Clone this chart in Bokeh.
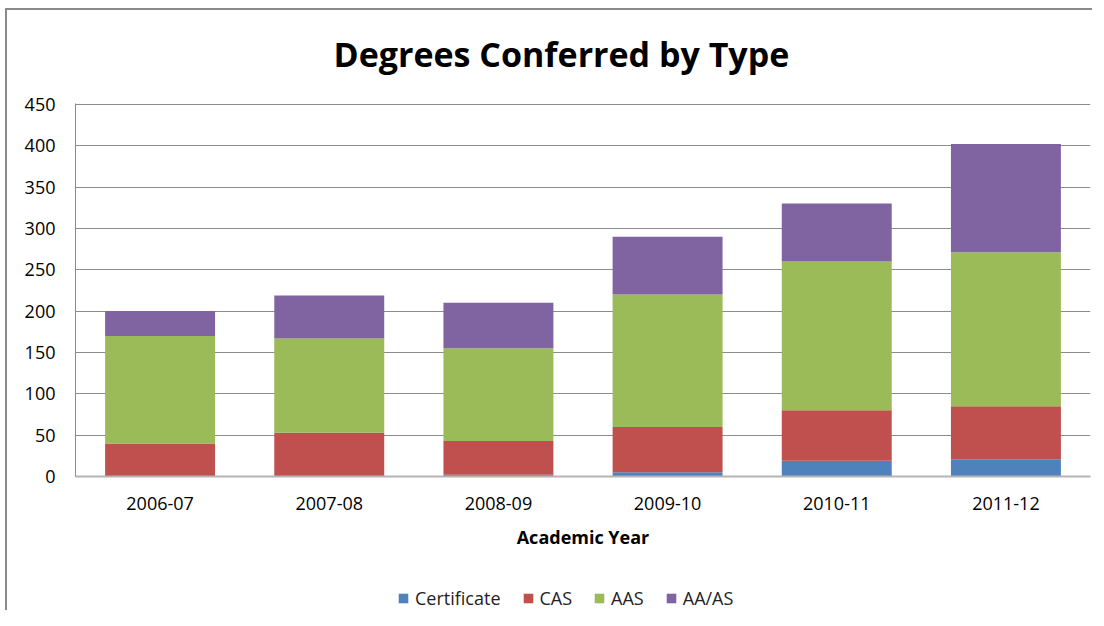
from bokeh.plotting import figure
from bokeh.layouts import column
from bokeh.models import Legend, LegendItem, FixedTicker, Title, Range1d, FactorRange
from bokeh.embed import file_html
from bokeh.resources import INLINE

years = ["2006-07", "2007-08", "2008-09", "2009-10", "2010-11", "2011-12"]
series = ["Certificate", "CAS", "AAS", "AA/AS"]
certificate = [0, 0, 2, 5, 19, 21]
cas = [40, 53, 41, 55, 61, 64]
aas = [130, 114, 112, 160, 180, 186]
aa_as = [30, 52, 55, 70, 70, 131]
y_ticks = [0, 50, 100, 150, 200, 250, 300, 350, 400, 450]
colors = ["#4F81BD", "#C0504D", "#9BBB59", "#8064A2"]

data = {"year": years, "Certificate": certificate, "CAS": cas, "AAS": aas, "AA/AS": aa_as}

FONT = "Open Sans"

p = figure(x_range=years, y_range=(0, 451), width=1096, height=560,
           output_backend="svg", toolbar_location=None,
           min_border_left=75, min_border_right=6, min_border_top=103, min_border_bottom=84)

p.vbar_stack(series, x="year", width=0.65, source=data, color=colors, line_width=0)

t = Title(text="Degrees Conferred by Type", align="left", text_font=FONT,
          text_font_size="34px", text_font_style="bold", text_color="#000000",
          standoff=53, offset=258)
p.add_layout(t, "above")

p.outline_line_color = None
p.background_fill_color = None
p.border_fill_color = None

p.xgrid.grid_line_color = None
p.ygrid.grid_line_color = "#8c8c8c"
p.ygrid.grid_line_width = 1

p.yaxis.ticker = FixedTicker(ticks=y_ticks)
p.yaxis.axis_line_color = "#8c8c8c"
p.yaxis.major_tick_line_color = None
p.yaxis.minor_tick_line_color = None
p.yaxis.major_label_text_font = FONT
p.yaxis.major_label_text_font_size = "18px"
p.yaxis.major_label_text_color = "#000000"
p.yaxis.major_label_standoff = 14

p.xaxis.axis_line_color = "#b4b4b4"
p.xaxis.axis_line_width = 2
p.xaxis.major_tick_line_color = None
p.xaxis.minor_tick_line_color = None
p.xaxis.major_label_text_font = FONT
p.xaxis.major_label_text_font_size = "18px"
p.xaxis.major_label_text_color = "#000000"
p.xaxis.major_label_standoff = 14
p.xaxis.axis_label = "Academic Year"
p.xaxis.axis_label_text_font = FONT
p.xaxis.axis_label_text_font_size = "18px"
p.xaxis.axis_label_text_font_style = "bold"
p.xaxis.axis_label_text_color = "#000000"
p.xaxis.axis_label_standoff = 12

# legend strip below the chart; its bars lie outside the visible y window,
# only their styles are used for the legend swatches
lg = figure(width=1096, height=50, x_range=FactorRange(*years), y_range=Range1d(1000, 1001),
            x_axis_location=None, y_axis_location=None,
            output_backend="svg", toolbar_location=None,
            min_border_left=0, min_border_right=0, min_border_top=0, min_border_bottom=0)
lg.grid.visible = False
lg.outline_line_color = None
lg.background_fill_color = None
lg.border_fill_color = None
swatches = lg.vbar_stack(series, x="year", width=0.65, source=data, color=colors, line_width=0)

legend = Legend(items=[LegendItem(label=s, renderers=[r]) for s, r in zip(series, swatches)],
                orientation="horizontal", location=(322, 0),
                label_text_font=FONT, label_text_font_size="18px", label_text_color="#222222",
                glyph_width=12, glyph_height=12, spacing=21, label_standoff=6,
                border_line_color=None, background_fill_alpha=0, margin=0, padding=0)
lg.add_layout(legend, "center")

layout = column(p, lg, spacing=0,
                styles={"box-shadow": "inset 5px 8px 0 white, inset -4px 0 0 white, "
                                      "inset 7px 10px 0 #8a8a8a",
                        "background-color": "white"})

open("out.html", "w").write(file_html(layout, INLINE))
